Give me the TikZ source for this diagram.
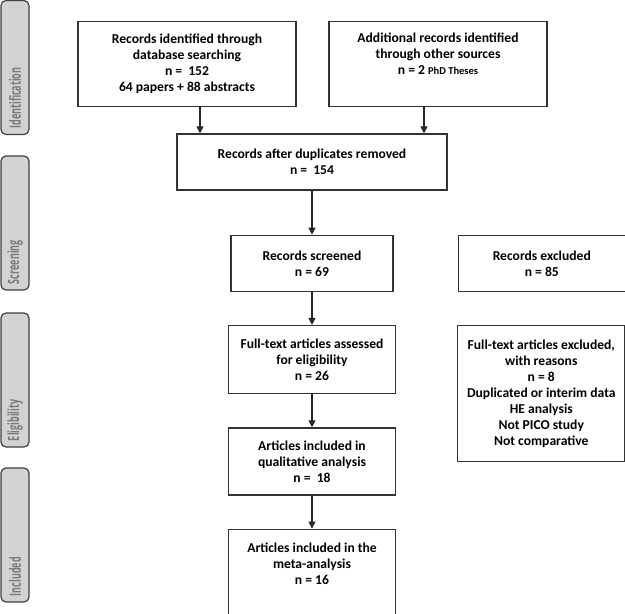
\documentclass[tikz,border=0pt]{standalone}
\usepackage{fontspec}
\setmainfont{Carlito}
\newfontfamily\stagefont{Open Sans}
\usetikzlibrary{arrows.meta,positioning}
\newcommand{\phase}[1]{\scalebox{0.58}[1]{#1}}

\begin{document}
\begin{tikzpicture}[
    x=1pt, y=1pt,
    font=\fontsize{13.6}{16}\selectfont\bfseries,
    node distance=33pt,
    box/.style={draw=black!80, line width=1.3pt, fill=white, inner sep=0pt, align=center},
    stage/.style={rounded corners=5pt, draw=black!75, fill=gray!35, line width=1.2pt, rotate=90,
      minimum width=134pt, minimum height=28pt, inner xsep=6pt, text width=122pt, align=left,
      text=black!52, font=\stagefont\fontsize{15.5}{16}\selectfont\bfseries},
    arr/.style={-{Triangle[length=7pt, width=7pt]}, line width=1.3pt, draw=black!85},
  ]
  \useasboundingbox (0,0) rectangle (625,-614);

  % phases down the left side
  \node[stage] (sid) at (15,-67.5) {\phase{Identification}};
  \node[stage] (sscr) at (15,-223) {\phase{Screening}};
  \node[stage] (selig) at (15,-380) {\phase{Eligibility}};
  \node[stage] (sincl) at (15,-535) {\phase{Included}};

  \node[box, minimum width=270pt, minimum height=56pt] (dup) at (312,-162)
    {Records after duplicates removed\\n = \ 154};

  \node[box, minimum width=218pt, minimum height=85pt, above=26pt of dup, xshift=-125pt] (db)
    {Records identified through\\database searching\\n = \ 152\\64 papers + 88 abstracts};

  \node[box, minimum width=218pt, minimum height=85pt, above=26pt of dup, xshift=126pt] (other)
    {Additional records identified\\through other sources\\n = 2 {\fontsize{10.5}{16}\selectfont PhD Theses}\\\strut};

  \node[box, minimum width=162pt, minimum height=56pt, below=44pt of dup] (screened)
    {Records screened\\n = 69};

  \node[box, minimum width=167pt, minimum height=56pt, right=64pt of screened] (excluded)
    {Records excluded\\n = 85};

  \node[box, minimum width=167pt, minimum height=68pt, below=of screened] (fulltext)
    {Full-text articles assessed\\for eligibility\\n = 26};

  \node[box, minimum width=167pt, minimum height=136pt, right=61pt of fulltext.north east, anchor=north west] (ftexcl)
    {Full-text articles excluded,\\with reasons\\n = 8\\Duplicated or interim data\\HE analysis\\Not PICO study\\Not comparative};

  \node[box, minimum width=167pt, minimum height=67pt, below=of fulltext] (qual)
    {Articles included in\\qualitative analysis\\n = \ 18};

  \node[box, minimum width=167pt, minimum height=89pt, below=of qual] (meta)
    {Articles included in the\\meta-analysis\\n = 16\\\strut};

  \draw[arr] ([xshift=13pt]db.south) -- ([xshift=13pt]db.south |- dup.north);
  \draw[arr] ([xshift=-14pt]other.south) -- ([xshift=-14pt]other.south |- dup.north);
  \draw[arr] (dup) -- (screened);
  \draw[arr] (screened) -- (fulltext);
  \draw[arr] (fulltext) -- (qual);
  \draw[arr] (qual) -- (meta);
\end{tikzpicture}
\end{document}
